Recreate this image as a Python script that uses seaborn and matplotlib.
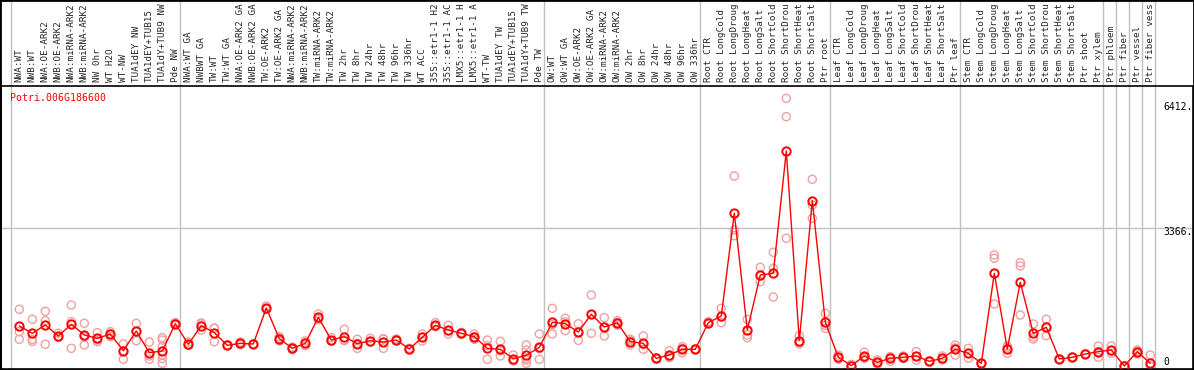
import matplotlib
matplotlib.use("Agg")
import matplotlib.pyplot as plt
import matplotlib.patches as mpatches
import numpy as np
import pandas as pd
import seaborn as sns

# ---- data ----
gene_id = "Potri.006G186600"

# sample names as they show in the header (the long ones are cut at 14 chars)
samples = [
    "NWA:WT", "NWB:WT", "NWA:OE-ARK2", "NWB:OE-ARK2", "NWA:miRNA-ARK2", "NWB:miRNA-ARK2",
    "NW 0hr", "WT H2O", "WT-NW", "TUA1dEY NW", "TUA1dEY+TUB15", "TUA1dY+TUB9 NW", "Pde NW",
    "NWA:WT GA", "NWBWT GA", "TW:WT", "TW:WT GA", "NWA:OE-ARK2 GA", "NWB:OE-ARK2 GA",
    "TW:OE-ARK2", "TW:OE-ARK2 GA", "NWA:miRNA-ARK2", "NWB:miRNA-ARK2", "TW:miRNA-ARK2",
    "TW:miRNA-ARK2", "TW 2hr", "TW 8hr", "TW 24hr", "TW 48hr", "TW 96hr", "TW 336hr",
    "WT ACC", "35S::etr1-1 H2", "35S::etr1-1 AC", "LMX5::etr1-1 H", "LMX5::etr1-1 A",
    "WT-TW", "TUA1dEY TW", "TUA1dEY+TUB15", "TUA1dY+TUB9 TW", "Pde TW",
    "OW:WT", "OW:WT GA", "OW:OE-ARK2", "OW:OE-ARK2 GA", "OW:miRNA-ARK2", "OW:miRNA-ARK2",
    "OW 2hr", "OW 8hr", "OW 24hr", "OW 48hr", "OW 96hr", "OW 336hr",
    "Root CTR", "Root LongCold", "Root LongDroug", "Root LongHeat", "Root LongSalt",
    "Root ShortCold", "Root ShortDrou", "Root ShortHeat", "Root ShortSalt", "Ptr root",
    "Leaf CTR", "Leaf LongCold", "Leaf LongDroug", "Leaf LongHeat", "Leaf LongSalt",
    "Leaf ShortCold", "Leaf ShortDrou", "Leaf ShortHeat", "Leaf ShortSalt", "Ptr leaf",
    "Stem CTR", "Stem LongCold", "Stem LongDroug", "Stem LongHeat", "Stem LongSalt",
    "Stem ShortCold", "Stem ShortDrou", "Stem ShortHeat", "Stem ShortSalt", "Ptr shoot",
    "Ptr xylem", "Ptr phloem", "Ptr fiber", "Ptr vessel", "Ptr fiber vess",
]

means = [
    976, 797, 1000, 732, 1017, 756, 675, 780, 374, 854, 325, 366, 1033,
    529, 984, 813, 504, 553, 537, 1415, 667, 431, 553, 1187, 634, 715, 545, 618, 585,
    634, 415, 699, 992, 878, 797, 715, 431, 407, 179, 260, 455,
    1065, 1033, 829, 1260, 951, 1057, 593, 553, 187, 268, 407, 407,
    1057, 1220, 3724, 878, 2219, 2261, 5244, 618, 4032, 1065,
    212, 10, 244, 90, 187, 212, 244, 114, 187, 407,
    309, 65, 2261, 415, 2041, 797, 943, 171, 212, 293,
    350, 390, 0, 350, 65,
]

replicates = [
    [1383, 837, 651], [1139, 651, 600], [1334, 1106, 529], [800, 700, 700],
    [1488, 1081, 431], [1041, 512, 715], [813, 634, 593], [837, 780, 715],
    [537, 374, 163], [1041, 837, 618], [585, 244, 163], [691, 634, 471, 268, 179, 65],
    [1060, 1000, 1040],
    [585, 496, 510], [1024, 878, 1050], [919, 593, 925], [504, 490, 520],
    [585, 520, 555], [537, 530, 545], [1463, 1383, 1400], [715, 610, 676],
    [431, 400, 460], [610, 496, 553], [1268, 1163, 1130], [691, 610, 600],
    [895, 634, 616], [651, 431, 553], [675, 593, 586], [658, 431, 666],
    [660, 610, 634], [415, 400, 430], [780, 610, 707], [1057, 959, 960],
    [992, 780, 862], [820, 780, 790], [780, 651, 714], [634, 163, 496],
    [602, 244, 375], [268, 122, 147], [512, 390, 187, 146, 65], [780, 163, 422],
    [1407, 780, 1008], [1163, 862, 1075], [1030, 625, 832], [1732, 797, 1252],
    [1179, 732, 943], [1106, 1000, 1065], [651, 512, 616], [732, 407, 520],
    [200, 170, 190], [374, 228, 202], [471, 325, 425], [420, 395, 405],
    [1080, 1030, 1060], [1407, 1057, 1195], [4634, 3317, 3178], [1139, 756, 691],
    [2407, 2057, 2195], [2773, 2383, 1683], [6529, 6081, 3115], [739, 577, 538],
    [4553, 3927, 3602], [1285, 919, 991],
    [268, 163, 205], [40, 5, 10], [334, 187, 211], [146, 49, 75],
    [228, 114, 219], [244, 180, 212], [350, 146, 236], [130, 100, 112],
    [244, 146, 171], [512, 268, 441],
    [431, 187, 309], [65, 60, 70], [2707, 2627, 1512], [450, 309, 486],
    [2520, 2439, 1244], [1024, 658, 709], [1139, 739, 951], [180, 160, 171],
    [220, 200, 215], [300, 285, 293],
    [488, 212, 350], [488, 309, 373], [10, 0, 0], [390, 293, 367], [268, 0, 0],
]

# groups are separated after these sample positions
group_breaks = [-0.5, 12.5, 40.5, 52.5, 62.5, 72.5, 83.5, 84.5, 85.5, 86.5, 87.5]

tick_vals = [6412, 3366, 0]
tick_text = ["6412.", "3366.", "0"]

# ---- frames ----
pos = np.arange(len(samples))
df_mean = pd.DataFrame({"pos": pos, "value": means})
rep_pos, rep_val = [], []
for i, reps in enumerate(replicates):
    for v in reps:
        rep_pos.append(i)
        rep_val.append(v)
df_rep = pd.DataFrame({"pos": rep_pos, "value": rep_val})

# ---- plot ----
sns.set_style("white")
plt.rcParams["font.family"] = ["DejaVu Sans Mono", "DejaVu Sans"]

W, H = 1194, 370
fig = plt.figure(figsize=(W / 100, H / 100), dpi=100)
top_px, bot_px = 85.5, 368.5
ax = fig.add_axes([1 / W, (H - bot_px) / H, (W - 2) / W, (bot_px - top_px) / H])

# pixel mapping of the reference: x = 19.3 + 13 * i, 0 at y=366, 24.39 per px
ax.set_xlim((1 - 19.3) / 13, (W - 1 - 19.3) / 13)
ax.set_ylim((366 - bot_px) * 24.39, (366 - top_px) * 24.39)

for b in group_breaks:
    ax.axvline(b - 0.12, ymin=0, ymax=1 + top_px / (bot_px - top_px),
               color="#c0c0c0", lw=1, clip_on=False, zorder=0)
ax.axhline(3366, color="#c0c0c0", lw=1, zorder=0)

sns.scatterplot(data=df_rep, x="pos", y="value", ax=ax, marker="o", s=34,
                facecolors="none", edgecolor="#f0a0a0", linewidth=1.0, zorder=2,
                legend=False)
sns.lineplot(data=df_mean, x="pos", y="value", ax=ax, color="red", lw=1,
             marker="o", markersize=6, markerfacecolor="none",
             markeredgecolor="red", markeredgewidth=1.4, zorder=3)

# sample names along the top
ax.xaxis.tick_top()
ax.set_xticks(pos)
ax.set_xticklabels(samples, rotation=90, fontsize=6.7)
ax.tick_params(axis="x", length=0, pad=2.6)
ax.set_yticks([])
ax.set_xlabel("")
ax.set_ylabel("")

# value labels on the right side inside the plot
for v, t in zip(tick_vals, tick_text):
    dy = 3 if v == 0 else -3
    ax.annotate(t, xy=((1163 - 19.3) / 13, v), xytext=(0, dy), textcoords="offset points",
                ha="left", va="center", fontsize=7, color="black")

ax.text(9 / (W - 2), 1 - 12 / (bot_px - top_px), gene_id, transform=ax.transAxes,
        ha="left", va="center", fontsize=7.1, color="red")

for s in ax.spines.values():
    s.set_color("black")
    s.set_linewidth(1.2)

fig.patches.append(mpatches.Rectangle((0, 0), 1, 1, transform=fig.transFigure,
                                      fill=False, edgecolor="black", lw=2))

fig.savefig("out.png", dpi=100)
